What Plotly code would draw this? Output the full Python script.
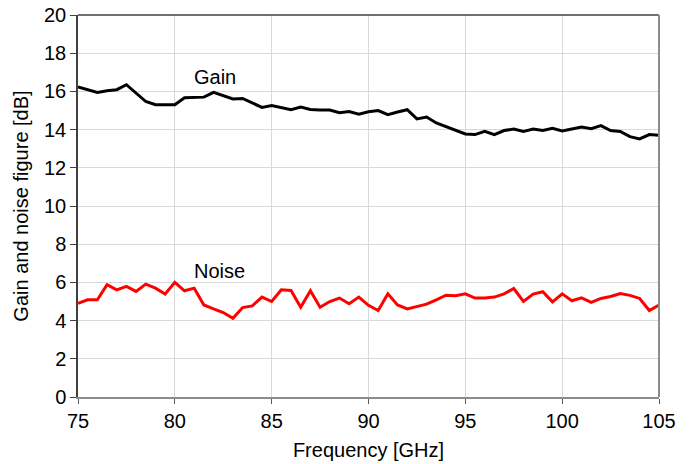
import plotly.graph_objects as go

freq = [75 + 0.5 * i for i in range(61)]

gain = [16.23, 16.09, 15.95, 16.03, 16.09, 16.35, 15.91, 15.47, 15.30, 15.30,
        15.30, 15.67, 15.70, 15.70, 15.95, 15.79, 15.60, 15.63, 15.39, 15.16,
        15.26, 15.14, 15.04, 15.18, 15.05, 15.02, 15.02, 14.88, 14.95, 14.81,
        14.93, 15.00, 14.78, 14.92, 15.04, 14.56, 14.66, 14.35, 14.17, 13.97,
        13.77, 13.74, 13.91, 13.74, 13.95, 14.03, 13.90, 14.03, 13.95, 14.07,
        13.93, 14.03, 14.14, 14.05, 14.21, 13.95, 13.90, 13.63, 13.51, 13.74,
        13.70]

noise = [4.91, 5.09, 5.09, 5.88, 5.61, 5.79, 5.53, 5.91, 5.70, 5.39,
         6.00, 5.56, 5.70, 4.82, 4.61, 4.42, 4.12, 4.68, 4.77, 5.23,
         5.00, 5.61, 5.58, 4.70, 5.56, 4.70, 5.00, 5.18, 4.88, 5.23,
         4.80, 4.53, 5.40, 4.82, 4.61, 4.74, 4.86, 5.09, 5.33, 5.30,
         5.40, 5.18, 5.18, 5.23, 5.40, 5.68, 5.00, 5.39, 5.51, 4.98,
         5.40, 5.04, 5.19, 4.95, 5.16, 5.26, 5.42, 5.32, 5.16, 4.53,
         4.82]

labels = ["Gain", "Noise"]
label_x = [82.05, 82.3]
label_y = [16.75, 6.6]

FONT = "Liberation Sans, Arial, sans-serif"
FS = 20

fig = go.Figure()
fig.add_trace(go.Scatter(x=freq, y=gain, mode="lines",
                         line=dict(color="#000000", width=3), name="Gain"))
fig.add_trace(go.Scatter(x=freq, y=noise, mode="lines",
                         line=dict(color="#ff0000", width=3), name="Noise"))

for t, xx, yy in zip(labels, label_x, label_y):
    fig.add_annotation(x=xx, y=yy, text=t, showarrow=False,
                       font=dict(family=FONT, size=FS, color="#000000"))

# plot-area border: dark left/top, gray right/bottom
fig.add_shape(type="line", xref="paper", yref="paper", x0=0, x1=1, y0=1, y1=1,
              line=dict(color="#404040", width=1.5))
fig.add_shape(type="line", xref="paper", yref="paper", x0=1, x1=1, y0=0, y1=1,
              line=dict(color="#8c8c8c", width=2))

fig.update_layout(
    width=697, height=464,
    margin=dict(l=78, r=38, t=15, b=67),
    paper_bgcolor="white", plot_bgcolor="white",
    showlegend=False,
    font=dict(family=FONT, size=FS, color="#000000"),
    xaxis=dict(range=[75, 105], dtick=5, tick0=75, automargin=False,
               showgrid=True, gridcolor="#d9d9d9", gridwidth=1,
               zeroline=False,
               showline=True, linecolor="#8c8c8c", linewidth=2,
               ticks="outside", ticklen=5, tickcolor="#595959", tickwidth=1,
               tickfont=dict(size=FS),
               title=dict(text="Frequency [GHz]", font=dict(size=FS), standoff=12)),
    yaxis=dict(range=[0, 20], dtick=2, tick0=0, automargin=False,
               showgrid=True, gridcolor="#d9d9d9", gridwidth=1,
               zeroline=False,
               showline=True, linecolor="#404040", linewidth=1.5,
               ticks="outside", ticklen=6, tickcolor="#404040", tickwidth=1,
               tickfont=dict(size=FS),
               title=dict(text="Gain and noise figure [dB]", font=dict(size=FS), standoff=10)),
)

fig.write_html("out.html")
